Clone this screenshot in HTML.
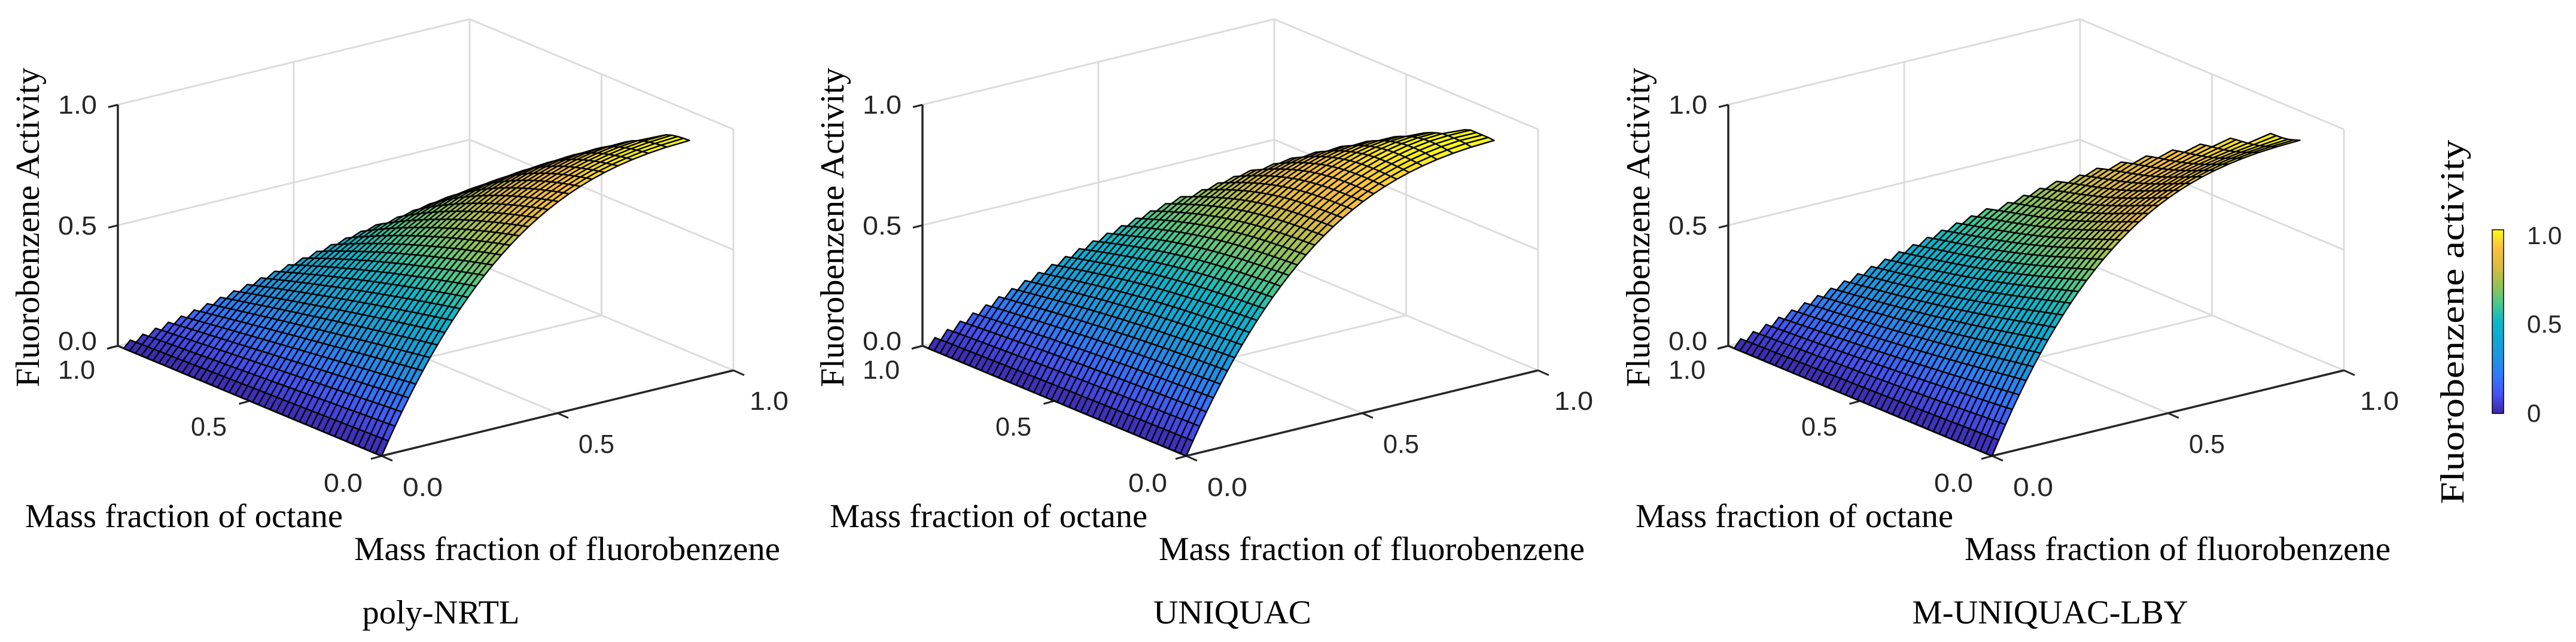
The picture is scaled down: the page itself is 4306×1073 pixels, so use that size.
<!DOCTYPE html>
<html><head><meta charset="utf-8"><style>
html,body{margin:0;padding:0;background:#fff;}
svg{display:block;}
.tk{font-family:"Liberation Sans",Arial,sans-serif;font-size:44px;fill:#262626;}
.lb{font-family:"Liberation Serif","Times New Roman",serif;font-size:56px;fill:#000;}
.cb{font-family:"Liberation Sans",Arial,sans-serif;font-size:42px;fill:#262626;}
</style></head><body>
<svg id="s" xmlns="http://www.w3.org/2000/svg" width="4306" height="1073" viewBox="0 0 4306 1073">
<rect width="4306" height="1073" fill="#fff"/>
<g id="plots"></g>
<!-- Panel 1 -->
<g>
<text class="tk" x="162" y="190" text-anchor="end" textLength="65" lengthAdjust="spacingAndGlyphs">1.0</text>
<text class="tk" x="162" y="392" text-anchor="end" textLength="65" lengthAdjust="spacingAndGlyphs">0.5</text>
<text class="tk" x="162" y="585" text-anchor="end" textLength="65" lengthAdjust="spacingAndGlyphs">0.0</text>
<text class="tk" x="97" y="633" textLength="62" lengthAdjust="spacingAndGlyphs">1.0</text>
<text class="tk" x="319" y="728" textLength="60" lengthAdjust="spacingAndGlyphs">0.5</text>
<text class="tk" x="541" y="822" textLength="65" lengthAdjust="spacingAndGlyphs">0.0</text>
<text class="tk" x="673" y="829" textLength="67" lengthAdjust="spacingAndGlyphs">0.0</text>
<text class="tk" x="967" y="757" textLength="60" lengthAdjust="spacingAndGlyphs">0.5</text>
<text class="tk" x="1253" y="685" textLength="65" lengthAdjust="spacingAndGlyphs">1.0</text>
<text class="lb" x="42" y="881" textLength="531" lengthAdjust="spacingAndGlyphs">Mass fraction of octane</text>
<text class="lb" x="592" y="936" textLength="712" lengthAdjust="spacingAndGlyphs">Mass fraction of fluorobenzene</text>
<text class="lb" transform="translate(65,380) rotate(-90)" x="0" y="0" text-anchor="middle" textLength="534" lengthAdjust="spacingAndGlyphs">Fluorobenzene Activity</text>
<text class="lb" x="737" y="1042" text-anchor="middle" textLength="263" lengthAdjust="spacingAndGlyphs">poly-NRTL</text>
</g>
<!-- Panel 2 -->
<g transform="translate(1345,0)">
<text class="tk" x="162" y="190" text-anchor="end" textLength="65" lengthAdjust="spacingAndGlyphs">1.0</text>
<text class="tk" x="162" y="392" text-anchor="end" textLength="65" lengthAdjust="spacingAndGlyphs">0.5</text>
<text class="tk" x="162" y="585" text-anchor="end" textLength="65" lengthAdjust="spacingAndGlyphs">0.0</text>
<text class="tk" x="97" y="633" textLength="62" lengthAdjust="spacingAndGlyphs">1.0</text>
<text class="tk" x="319" y="728" textLength="60" lengthAdjust="spacingAndGlyphs">0.5</text>
<text class="tk" x="541" y="822" textLength="65" lengthAdjust="spacingAndGlyphs">0.0</text>
<text class="tk" x="673" y="829" textLength="67" lengthAdjust="spacingAndGlyphs">0.0</text>
<text class="tk" x="967" y="757" textLength="60" lengthAdjust="spacingAndGlyphs">0.5</text>
<text class="tk" x="1253" y="685" textLength="65" lengthAdjust="spacingAndGlyphs">1.0</text>
<text class="lb" x="42" y="881" textLength="531" lengthAdjust="spacingAndGlyphs">Mass fraction of octane</text>
<text class="lb" x="592" y="936" textLength="712" lengthAdjust="spacingAndGlyphs">Mass fraction of fluorobenzene</text>
<text class="lb" transform="translate(65,380) rotate(-90)" x="0" y="0" text-anchor="middle" textLength="534" lengthAdjust="spacingAndGlyphs">Fluorobenzene Activity</text>
<text class="lb" x="715" y="1042" text-anchor="middle" textLength="264" lengthAdjust="spacingAndGlyphs">UNIQUAC</text>
</g>
<!-- Panel 3 -->
<g transform="translate(2692,0)">
<text class="tk" x="162" y="190" text-anchor="end" textLength="65" lengthAdjust="spacingAndGlyphs">1.0</text>
<text class="tk" x="162" y="392" text-anchor="end" textLength="65" lengthAdjust="spacingAndGlyphs">0.5</text>
<text class="tk" x="162" y="585" text-anchor="end" textLength="65" lengthAdjust="spacingAndGlyphs">0.0</text>
<text class="tk" x="97" y="633" textLength="62" lengthAdjust="spacingAndGlyphs">1.0</text>
<text class="tk" x="319" y="728" textLength="60" lengthAdjust="spacingAndGlyphs">0.5</text>
<text class="tk" x="541" y="822" textLength="65" lengthAdjust="spacingAndGlyphs">0.0</text>
<text class="tk" x="673" y="829" textLength="67" lengthAdjust="spacingAndGlyphs">0.0</text>
<text class="tk" x="967" y="757" textLength="60" lengthAdjust="spacingAndGlyphs">0.5</text>
<text class="tk" x="1253" y="685" textLength="65" lengthAdjust="spacingAndGlyphs">1.0</text>
<text class="lb" x="42" y="881" textLength="531" lengthAdjust="spacingAndGlyphs">Mass fraction of octane</text>
<text class="lb" x="592" y="936" textLength="712" lengthAdjust="spacingAndGlyphs">Mass fraction of fluorobenzene</text>
<text class="lb" transform="translate(65,380) rotate(-90)" x="0" y="0" text-anchor="middle" textLength="534" lengthAdjust="spacingAndGlyphs">Fluorobenzene Activity</text>
<text class="lb" x="735" y="1042" text-anchor="middle" textLength="461" lengthAdjust="spacingAndGlyphs">M-UNIQUAC-LBY</text>
</g>
<!-- Colorbar -->
<defs>
<linearGradient id="par" x1="0" y1="1" x2="0" y2="0">
<stop offset="0" stop-color="#3e26a8"/>
<stop offset="0.1" stop-color="#4650f2"/>
<stop offset="0.2" stop-color="#3278fd"/>
<stop offset="0.3" stop-color="#1f92e2"/>
<stop offset="0.4" stop-color="#0fa8d6"/>
<stop offset="0.5" stop-color="#0ab8c8"/>
<stop offset="0.6" stop-color="#4cc88c"/>
<stop offset="0.7" stop-color="#96c254"/>
<stop offset="0.8" stop-color="#dcba40"/>
<stop offset="0.9" stop-color="#fcc13d"/>
<stop offset="1" stop-color="#f9fb14"/>
</linearGradient>
</defs>
<rect x="4166" y="384" width="19" height="307" fill="url(#par)" stroke="#000" stroke-width="1.5"/>
<text class="cb" x="4224" y="408">1.0</text>
<text class="cb" x="4224" y="556">0.5</text>
<text class="cb" x="4224" y="705">0</text>
<text class="lb" transform="translate(4118,538) rotate(-90)" x="0" y="0" text-anchor="middle" font-size="62" textLength="609" lengthAdjust="spacingAndGlyphs">Fluorobenzene activity</text>
</svg>
<script>
(function(){
var NS="http://www.w3.org/2000/svg";
var G=document.getElementById("plots");
var hex=["#3e26a8","#4650f2","#3278fd","#1f92e2","#0fa8d6","#0ab8c8","#4cc88c","#96c254","#dcba40","#fcc13d","#f9fb14"];
var stops=hex.map(function(h,i){return [i/10,[parseInt(h.substr(1,2),16),parseInt(h.substr(3,2),16),parseInt(h.substr(5,2),16)]];});
function cmap(t){t=Math.max(0,Math.min(1,t));for(var i=1;i<stops.length;i++){if(t<=stops[i][0]){var a=stops[i-1],b=stops[i],f=(t-a[0])/(b[0]-a[0]);return "rgb("+[0,1,2].map(function(k){return Math.round(a[1][k]+(b[1][k]-a[1][k])*f)}).join(",")+")";}}return "rgb(249,251,20)";}
var panels=[{dx:0,k0:3,kh:1.45,w:0},{dx:1345,k0:3,kh:2.0,w:0.03},{dx:2692,k0:3.2,kh:1.75,w:-0.04}];
function el(n,a){var e=document.createElementNS(NS,n);for(var k in a)e.setAttribute(k,a[k]);return e;}
panels.forEach(function(p,pi){
  function P(u,v,z){return [p.dx+638-441*u+588*v, 762-184*u-143*v-403*z];}
  function L(a,b,c,w){G.appendChild(el("line",{x1:a[0].toFixed(1),y1:a[1].toFixed(1),x2:b[0].toFixed(1),y2:b[1].toFixed(1),stroke:c,"stroke-width":w}));}
  var gc="#dcdcdc",gw=3;
  [0,0.5,1].forEach(function(z){L(P(1,0,z),P(1,1,z),gc,gw);L(P(1,1,z),P(0,1,z),gc,gw);});
  L(P(1,0.5,0),P(1,0.5,1),gc,gw);L(P(1,1,0),P(1,1,1),gc,gw);
  L(P(0.5,1,0),P(0.5,1,1),gc,gw);L(P(0,1,0),P(0,1,1),gc,gw);
  L(P(0.5,0,0),P(0.5,1,0),gc,gw);L(P(0,0.5,0),P(1,0.5,0),gc,gw);
  var ac="#262626",aw=3.5;
  L(P(1,0,0),P(1,0,1),ac,aw);
  L(P(1,0,0),P(0,0,0),ac,aw);
  L(P(0,0,0),P(0,1,0),ac,aw);
  function tick(a,dx,dy){L(a,[a[0]+dx,a[1]+dy],ac,3);}
  [0,0.5,1].forEach(function(z){tick(P(1,0,z),-16,4);});
  [0,0.5,1].forEach(function(u){tick(P(u,0,0),-18,5);});
  [0,0.5,1].forEach(function(v){tick(P(0,v,0),18,8);});
  var NU=45,NV=32;
  var us=[],vs=[];
  for(var i=0;i<=NU;i++)us.push(i/NU);
  for(var j=0;j<=NV;j++)vs.push(1-Math.pow(1-j/NV,0.6));
  function f(u,v){
    if(v>=1)return 1;
    var t=u/(1-v);t=Math.max(0,Math.min(1,t));
    var k=p.k0*(1-t)+p.kh*t;
    var z=1-Math.pow(1-v,k);
    if(p.w){z+=p.w*Math.sin(t*Math.PI)*Math.sin(v*Math.PI);}
    return Math.max(0,Math.min(1,z));
  }
  var quads=[];
  for(var i=0;i<NU;i++)for(var j=0;j<NV;j++){
    var u0=us[i],u1=us[i+1],v0=vs[j],v1=vs[j+1];
    if(u1+v1>1+1e-9)continue;
    var z00=f(u0,v0),z10=f(u1,v0),z11=f(u1,v1),z01=f(u0,v1);
    var d=184*(u0+u1)/2+143*(v0+v1)/2;
    quads.push({d:d,pts:[P(u0,v0,z00),P(u1,v0,z10),P(u1,v1,z11),P(u0,v1,z01)],z:(z00+z10+z11+z01)/4});
  }
  quads.sort(function(a,b){return b.d-a.d;});
  var frag=document.createDocumentFragment();
  quads.forEach(function(q){
    var s=q.pts.map(function(pt){return pt[0].toFixed(1)+","+pt[1].toFixed(1);}).join(" ");
    frag.appendChild(el("polygon",{points:s,fill:cmap(q.z),stroke:"#000","stroke-width":"2.4","stroke-linejoin":"round"}));
  });
  G.appendChild(frag);
});
})();
</script>
</body></html>
